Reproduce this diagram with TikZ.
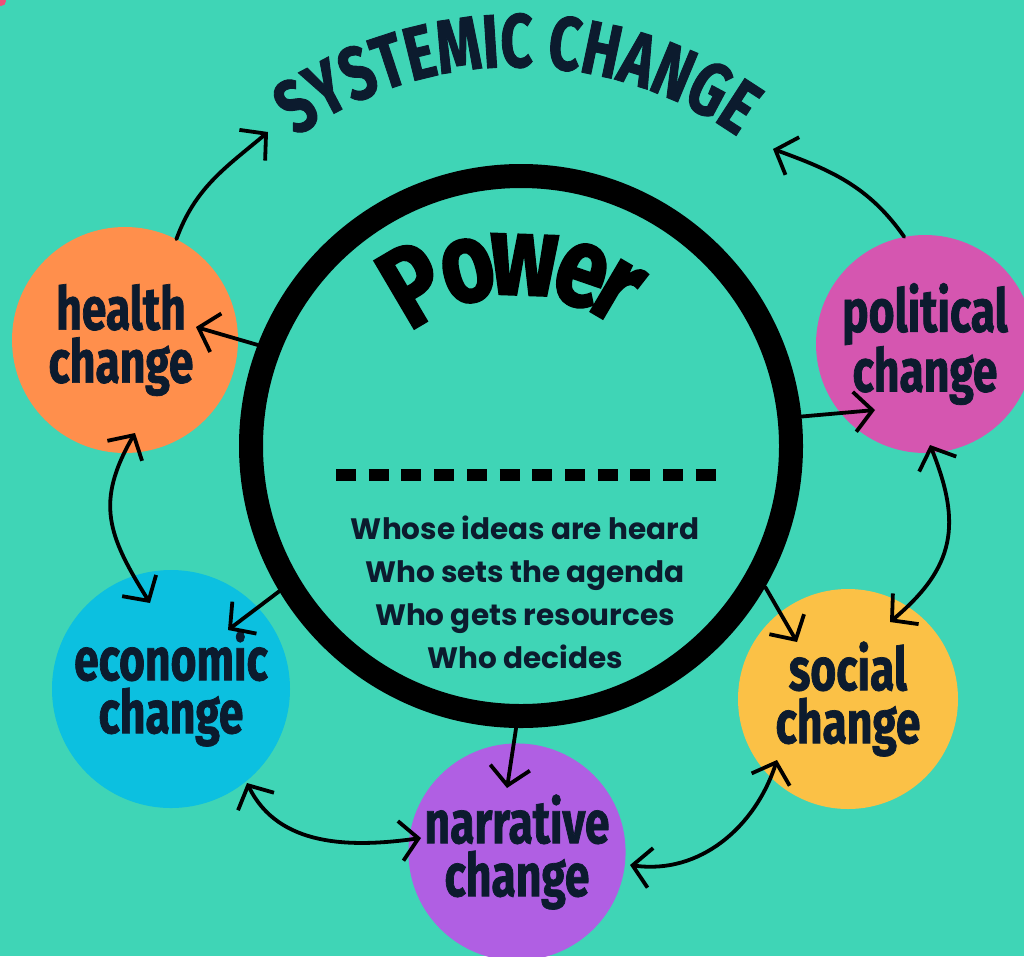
\documentclass[tikz,border=0pt]{standalone}
\usepackage{fontspec}
\usetikzlibrary{arrows.meta,decorations.text,calc}
\newfontfamily\condfont[FakeStretch=0.74,FakeBold=1.2]{Fira Sans}
\newfontfamily\powfont[FakeStretch=0.8,FakeBold=1.6]{Fira Sans}
\newfontfamily\popfont{Poppins}
\newcommand\mytitlefont{\condfont\bfseries\fontsize{76}{76}\selectfont}
\definecolor{bgteal}{HTML}{3FD5B6}
\definecolor{navy}{HTML}{0C1B2E}
\definecolor{corange}{HTML}{FF8F4C}
\definecolor{cblue}{HTML}{0CC0E0}
\definecolor{cpurple}{HTML}{B05FE3}
\definecolor{cmagenta}{HTML}{D556B0}
\definecolor{cyellow}{HTML}{FBC146}
\definecolor{cpink}{HTML}{F04E78}
\begin{document}
\begin{tikzpicture}[x=1pt,y=1pt,
  bubble/.style={circle, inner sep=0pt, align=center, text=navy,
    font=\condfont\bfseries\fontsize{60}{53}\selectfont},
  conn/.style={line width=3.8pt, line cap=round,
    -{Straight Barb[length=18pt,width=40pt]}},
  conn2/.style={line width=3.8pt, line cap=round,
    {Straight Barb[length=18pt,width=40pt]}-{Straight Barb[length=18pt,width=40pt]}},
  powl/.style={anchor=base, inner sep=0pt, text=black,
    font=\powfont\bfseries\fontsize{114}{114}\selectfont}]
\useasboundingbox (0,-956) rectangle (1024,0);
\fill[bgteal] (0,-956) rectangle (1024,0);
\fill[cpink] (1,-1) circle (5);
% circles
\node[bubble, fill=corange, minimum size=226pt] (health) at (125,-340) {\hspace*{-8pt}health\\\hspace*{-8pt}change};
\node[bubble, fill=cblue, minimum size=238pt] (economic) at (171,-689) {economic\\change};
\node[bubble, fill=cpurple, minimum size=216pt] (narrative) at (517,-852) {narrative\\change};
\node[bubble, fill=cmagenta, minimum size=218pt] (political) at (925,-344) {political\\change};
\node[bubble, fill=cyellow, minimum size=220pt] (social) at (848,-699) {social\\change};
% ring
\node[circle, draw=black, line width=24pt, minimum size=540pt, inner sep=0pt] (power) at (521,-446) {};
% title
\path[decorate, decoration={text along path, text color=navy, text align=center,
  text={|\mytitlefont|SYSTEMIC CHANGE}}]
  ($(517,-450)+(130:383)$) arc[start angle=130, end angle=50, radius=383];
% Power
\foreach \l/\a in {P/120.5, o/104.5, w/88, e/71, r/59.5}{
  \node[powl, rotate=\a-90] (pw\l) at ($(517,-461)+(\a:166)$) {\l};
}
% divider
\draw[line width=12pt, dash pattern=on 20pt off 12.7pt] (336,-475) -- (716,-475);
% questions
\node[font=\popfont\bfseries\fontsize{29.5}{43}\selectfont, text=navy, align=center] (questions) at (525,-592)
  {Whose ideas are heard\\Who sets the agenda\\Who gets resources\\Who decides};
% endpoints
\coordinate (tH) at (268,-132);
\coordinate (tP) at (773,-149);
\coordinate (hIn) at (196,-327);
\coordinate (pIn) at (875,-410);
\coordinate (eIn) at (228,-630);
\coordinate (sIn) at (797,-642);
\coordinate (nIn) at (507,-788);
\coordinate (hB) at (135,-433);
\coordinate (eT) at (150,-603);
\coordinate (pB) at (930,-445);
\coordinate (sT) at (890,-622);
\coordinate (eR) at (247,-783);
\coordinate (nL) at (421,-838);
\coordinate (nR) at (630,-865);
\coordinate (sB) at (777,-760);
% connectors
\draw[conn] (health.63) to[out=70,in=220] (tH);
\draw[conn] (political.101) to[out=125,in=-20] (tP);
\draw[conn] (power.159.6) -- (hIn);
\draw[conn] (power.6.3) -- (pIn);
\draw[conn] (power.211.7) -- (eIn);
\draw[conn] (power.-30.9) -- (sIn);
\draw[conn] (power.-91) -- (nIn);
\draw[conn2] (hB) to[out=240,in=122,looseness=1.2] (eT);
\draw[conn2] (pB) to[out=-68,in=40,looseness=1.2] (sT);
\draw[conn2] (eR) to[out=-64,in=188] (nL);
\draw[conn2] (nR) to[out=-8,in=252] (sB);
\end{tikzpicture}
\end{document}
